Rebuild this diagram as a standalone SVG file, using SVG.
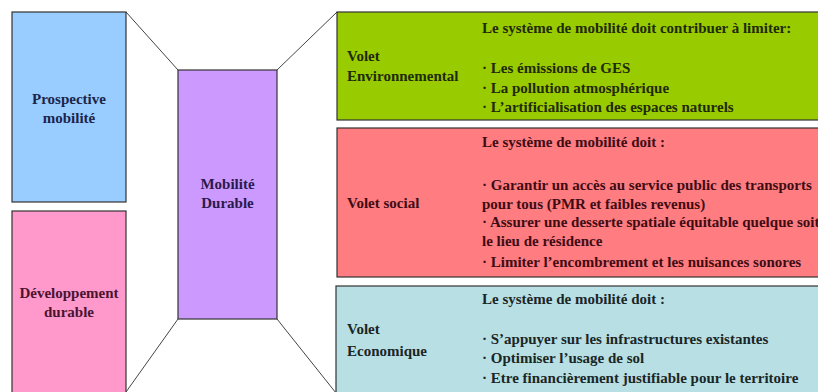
<svg xmlns="http://www.w3.org/2000/svg" width="818" height="392" viewBox="0 0 818 392">
<style>
.box{stroke:#333;stroke-width:1.2}
.lbl{font-size:15px;text-anchor:middle}
.t{font-size:15px}
.conn line{stroke:#444;stroke-width:1}
</style>
<rect width="818" height="392" fill="#ffffff"/>
<g class="conn">
<line x1="126" y1="12" x2="178" y2="70"/>
<line x1="277" y1="70" x2="337" y2="12"/>
<line x1="178" y1="319" x2="126" y2="392"/>
<line x1="277" y1="319" x2="336" y2="393"/>
</g>
<g font-family="Liberation Serif, serif" font-weight="bold">
<g id="prospective">
<rect class="box" x="12" y="12" width="114" height="190" fill="#99ccff"/>
<text class="lbl" x="69" y="104" fill="#1c2448">Prospective</text>
<text class="lbl" x="69" y="123" fill="#1c2448">mobilité</text>
</g>
<g id="developpement">
<rect class="box" x="12" y="211" width="114" height="190" fill="#ff99cc"/>
<text class="lbl" x="69" y="298" fill="#4a1430">Développement</text>
<text class="lbl" x="69" y="317" fill="#4a1430">durable</text>
</g>
<g id="mobilite">
<rect class="box" x="178" y="70" width="99" height="249" fill="#cc99ff"/>
<text class="lbl" x="227.5" y="189" fill="#2a1a4c">Mobilité</text>
<text class="lbl" x="227.5" y="208" fill="#2a1a4c">Durable</text>
</g>
<g id="environnemental" fill="#1e2a08">
<rect class="box" x="337" y="12" width="495" height="108" fill="#99cc00"/>
<text class="t" x="347" y="61">Volet</text>
<text class="t" x="347" y="80.5">Environnemental</text>
<text class="t" x="482" y="33">Le système de mobilité doit contribuer à limiter:</text>
<text class="t" x="482" y="73">· Les émissions de GES</text>
<text class="t" x="482" y="92.5">· La pollution atmosphérique</text>
<text class="t" x="482" y="112">· L’artificialisation des espaces naturels</text>
</g>
<g id="social" fill="#3e0c14">
<rect class="box" x="337" y="128" width="495" height="149" fill="#ff7c80"/>
<text class="t" x="347" y="208">Volet social</text>
<text class="t" x="482" y="147">Le système de mobilité doit :</text>
<text class="t" x="482" y="190">· Garantir un accès au service public des transports</text>
<text class="t" x="482" y="208.5">pour tous (PMR et faibles revenus)</text>
<text class="t" x="482" y="227">· Assurer une desserte spatiale équitable quelque soit</text>
<text class="t" x="482" y="245.5">le lieu de résidence</text>
<text class="t" x="482" y="267">· Limiter l’encombrement et les nuisances sonores</text>
</g>
<g id="economique" fill="#1a2626">
<rect class="box" x="336" y="286" width="496" height="120" fill="#b8dfe4"/>
<text class="t" x="347" y="334">Volet</text>
<text class="t" x="347" y="356">Economique</text>
<text class="t" x="482" y="304">Le système de mobilité doit :</text>
<text class="t" x="482" y="344">· S’appuyer sur les infrastructures existantes</text>
<text class="t" x="482" y="363">· Optimiser l’usage de sol</text>
<text class="t" x="482" y="383">· Etre financièrement justifiable pour le territoire</text>
</g>
</g>
</svg>
